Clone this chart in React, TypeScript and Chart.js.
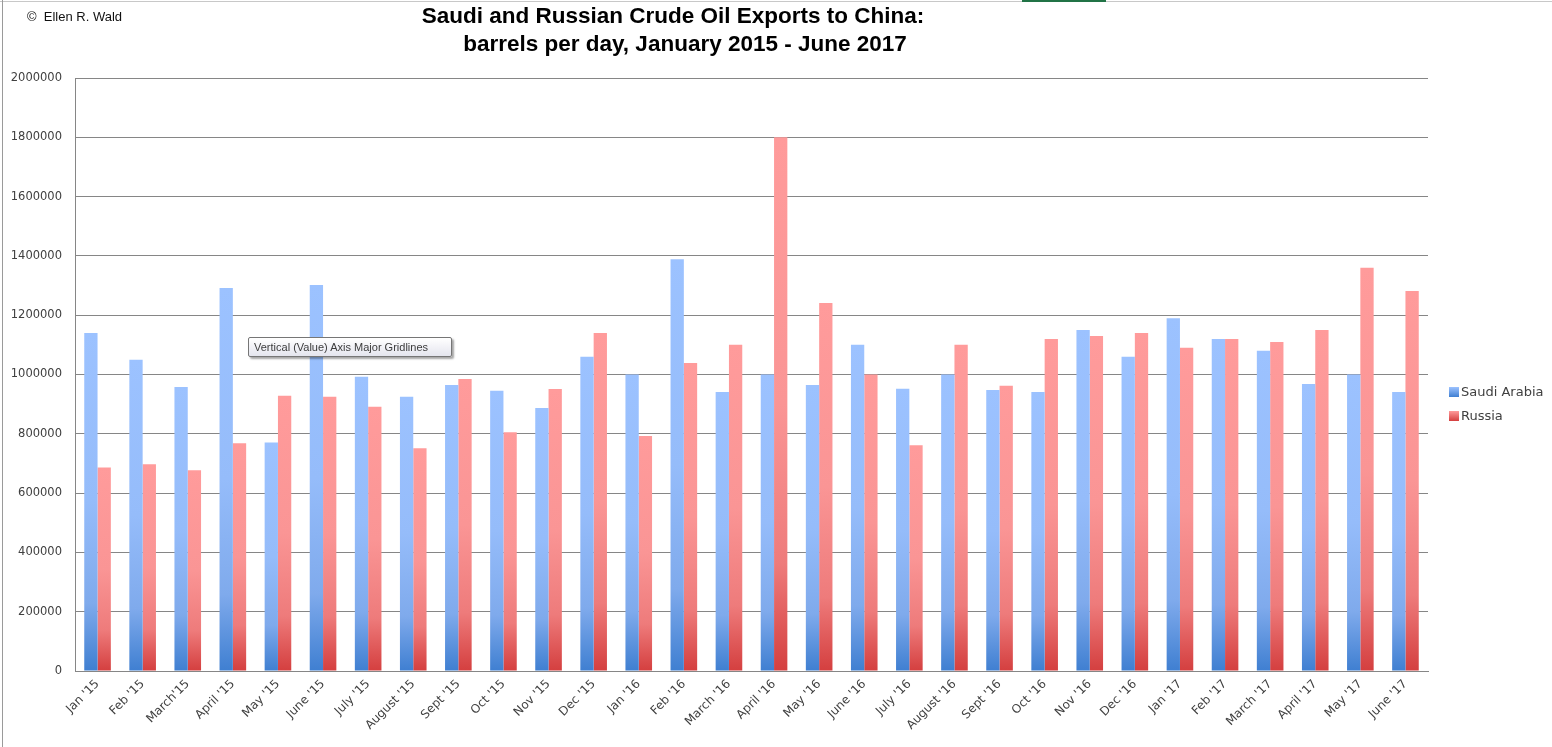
import React, { useEffect, useRef } from "react";
import { Chart, registerables } from "chart.js";

Chart.register(...registerables);

const categories = [
  "Jan '15", "Feb '15", "March'15", "April '15", "May '15", "June '15",
  "July '15", "August '15", "Sept '15", "Oct '15", "Nov '15", "Dec '15",
  "Jan '16", "Feb '16", "March '16", "April '16", "May '16", "June '16",
  "July '16", "August '16", "Sept '16", "Oct '16", "Nov '16", "Dec '16",
  "Jan '17", "Feb '17", "March '17", "April '17", "May '17", "June '17",
];

const saudiArabia = [
  1140000, 1050000, 958000, 1292000, 771000, 1302000,
  992000, 925000, 965000, 945000, 887000, 1060000,
  1000000, 1389000, 941000, 1000000, 965000, 1100000,
  952000, 1000000, 948000, 941000, 1150000, 1060000,
  1190000, 1120000, 1080000, 968000, 1000000, 941000,
];

const russia = [
  686000, 697000, 677000, 768000, 928000, 925000,
  891000, 751000, 985000, 805000, 951000, 1140000,
  793000, 1039000, 1100000, 1800000, 1241000, 1000000,
  761000, 1100000, 962000, 1120000, 1130000, 1140000,
  1090000, 1120000, 1110000, 1150000, 1360000, 1282000,
];

const seriesNames = ["Saudi Arabia", "Russia"];
const yMin = 0;
const yMax = 2000000;
const yStep = 200000;

const titleLines = [
  "Saudi and Russian Crude Oil Exports to China:",
  "barrels per day, January 2015 - June 2017",
];
const copyrightText = "©  Ellen R. Wald";
const hoverTipText = "Vertical (Value) Axis Major Gridlines";

type Palette = { top: string; mid: string; low: string; bottom: string };
const SAUDI: Palette = { top: "#9CC2FF", mid: "#95BCFA", low: "#7FAAEC", bottom: "#3F7FD1" };
const RUSSIA: Palette = { top: "#FF9B9B", mid: "#FA9595", low: "#EE7B7B", bottom: "#D43F3F" };
const palettes = [SAUDI, RUSSIA];

function barGradient(pal: Palette) {
  return (ctx: any) => {
    const chart = ctx.chart;
    const { chartArea, scales } = chart;
    if (!chartArea || ctx.type !== "data" || !scales.y) return pal.top;
    const v = ctx.raw as number;
    const top = scales.y.getPixelForValue(v);
    const bottom = scales.y.getPixelForValue(0);
    if (!isFinite(top) || bottom - top < 1) return pal.top;
    const g = chart.ctx.createLinearGradient(0, top, 0, bottom);
    g.addColorStop(0, pal.top);
    g.addColorStop(0.5, pal.mid);
    g.addColorStop(0.8, pal.low);
    g.addColorStop(1, pal.bottom);
    return g;
  };
}

const overlayPlugin = {
  id: "overlayText",
  afterDraw(chart: any) {
    const c = chart.ctx as CanvasRenderingContext2D;
    c.save();
    // title
    c.fillStyle = "#000000";
    c.font = 'bold 22.5px "Liberation Sans", Arial, sans-serif';
    c.textAlign = "center";
    c.textBaseline = "middle";
    c.fillText(titleLines[0], 673, 17);
    c.fillText(titleLines[1], 685, 45);
    // copyright
    c.font = '13px "Liberation Sans", Arial, sans-serif';
    c.textAlign = "left";
    c.fillStyle = "#111111";
    c.fillText(copyrightText, 27, 17);
    // legend
    const lx = chart.chartArea.right + 21;
    const ly0 = 392;
    chart.data.datasets.forEach((ds: any, i: number) => {
      const y = ly0 + i * 24;
      const pal = palettes[i];
      const g = c.createLinearGradient(0, y - 5, 0, y + 5);
      g.addColorStop(0, pal.top);
      g.addColorStop(1, pal.bottom);
      c.fillStyle = g;
      c.fillRect(lx, y - 5, 10, 10);
      c.fillStyle = "#404040";
      c.font = '13px "DejaVu Sans", sans-serif';
      c.textBaseline = "middle";
      c.fillText(ds.label, lx + 12, y + 1);
    });
    c.restore();
  },
};

export default function App() {
  const canvasRef = useRef<HTMLCanvasElement | null>(null);

  useEffect(() => {
    if (!canvasRef.current) return;
    const chart = new Chart(canvasRef.current, {
      type: "bar",
      data: {
        labels: categories,
        datasets: [
          {
            label: seriesNames[0],
            data: saudiArabia,
            backgroundColor: barGradient(SAUDI),
            borderWidth: 0,
            categoryPercentage: 0.59,
            barPercentage: 1.0,
          },
          {
            label: seriesNames[1],
            data: russia,
            backgroundColor: barGradient(RUSSIA),
            borderWidth: 0,
            categoryPercentage: 0.59,
            barPercentage: 1.0,
          },
        ],
      },
      options: {
        animation: false,
        responsive: true,
        maintainAspectRatio: false,
        layout: { padding: { left: 0, right: 124, top: 78, bottom: 0 } },
        plugins: {
          legend: { display: false },
          title: { display: false },
          tooltip: { enabled: false },
        },
        scales: {
          x: {
            grid: { display: false, drawTicks: false },
            border: { display: true, color: "#868686", width: 1 },
            ticks: {
              minRotation: 45,
              maxRotation: 45,
              autoSkip: false,
              color: "#404040",
              font: { family: '"DejaVu Sans", sans-serif', size: 12 },
              padding: 6,
            },
            afterFit: (s: any) => {
              s.height = 76;
            },
          },
          y: {
            min: yMin,
            max: yMax,
            ticks: {
              stepSize: yStep,
              color: "#404040",
              font: { family: '"DejaVu Sans", sans-serif', size: 11.5 },
              padding: 13,
              callback: (v: any) => String(v),
            },
            grid: { color: "#868686", drawTicks: false, lineWidth: 1 },
            border: { display: true, color: "#868686", width: 1 },
            afterFit: (s: any) => {
              s.width = 75;
            },
          },
        },
      },
      plugins: [overlayPlugin],
    });
    return () => chart.destroy();
  }, []);

  return (
    <div
      style={{
        position: "absolute",
        left: 0,
        top: 0,
        width: 1552,
        height: 747,
        background: "#ffffff",
        overflow: "hidden",
      }}
    >
      <canvas ref={canvasRef} style={{ display: "block" }} />
      <div style={{ position: "absolute", left: 0, top: 1, width: 1552, height: 1, background: "#C8C8C8" }} />
      <div style={{ position: "absolute", left: 1022, top: 0, width: 84, height: 2, background: "#217346" }} />
      <div style={{ position: "absolute", left: 2, top: 0, width: 1, height: 747, background: "#9A9A9A" }} />
      <div
        style={{
          position: "absolute",
          left: 248,
          top: 337,
          width: 197,
          height: 18,
          border: "1px solid #767676",
          borderRadius: 2,
          background: "linear-gradient(#ffffff, #e4e5ee)",
          boxShadow: "2px 2px 2px rgba(0,0,0,0.35)",
          fontFamily: '"Liberation Sans", Arial, sans-serif',
          fontSize: 11,
          lineHeight: "18px",
          color: "#3C3C3C",
          paddingLeft: 5,
          boxSizing: "content-box",
          whiteSpace: "nowrap",
        }}
      >
        {hoverTipText}
      </div>
    </div>
  );
}
